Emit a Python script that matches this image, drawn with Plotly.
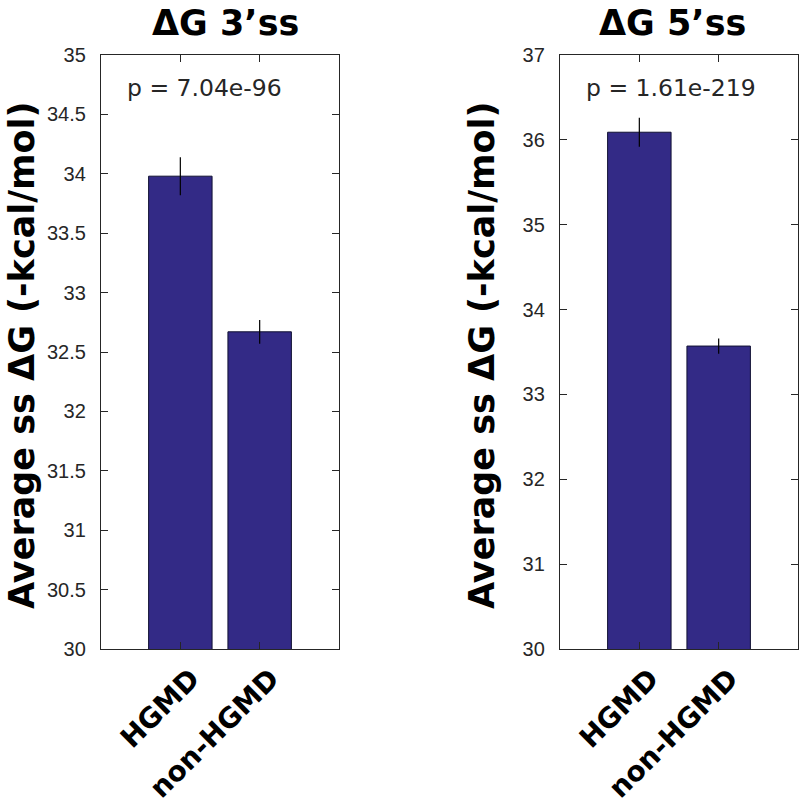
import plotly.graph_objects as go

# ---- data ----
categories = ["HGMD", "non-HGMD"]
dg3_values = [33.98, 32.67]
dg3_errors = [0.16, 0.10]
dg5_values = [36.09, 33.57]
dg5_errors = [0.17, 0.09]
titles = ["ΔG 3’ss", "ΔG 5’ss"]
p_texts = ["p = 7.04e-96", "p = 1.61e-219"]
y_label = "Average ss ΔG (-kcal/mol)"
y3_range = [30, 35]
y5_range = [30, 37]
y3_dtick = 0.5
y5_dtick = 1

W, H = 800, 808
BAR_COLOR = "#332a86"
AX_COLOR = "#262626"
TICK_FONT = dict(family="Liberation Sans, Arial, sans-serif", size=20, color=AX_COLOR)
BOLD_FONT = "DejaVu Sans, Liberation Sans, sans-serif"

def px_x(p):
    return p / W

def px_y(p):
    return 1 - p / H

fig = go.Figure()
fig.add_trace(go.Bar(
    x=categories, y=dg3_values, xaxis="x", yaxis="y",
    marker=dict(color=BAR_COLOR, line=dict(color="#111133", width=1)),
    error_y=dict(type="data", array=dg3_errors, color="black", thickness=1.2, width=0),
    showlegend=False))
fig.add_trace(go.Bar(
    x=categories, y=dg5_values, xaxis="x2", yaxis="y2",
    marker=dict(color=BAR_COLOR, line=dict(color="#111133", width=1)),
    error_y=dict(type="data", array=dg5_errors, color="black", thickness=1.2, width=0),
    showlegend=False))

ydom = [px_y(649), px_y(55)]
common_x = dict(type="category", range=[-1, 2], showline=True, mirror="ticks",
                linecolor=AX_COLOR, linewidth=1.3, ticks="inside", ticklen=7,
                tickcolor=AX_COLOR, tickwidth=1.2, tickangle=-45, automargin=False,
                ticklabelshift=11, ticklabelstandoff=1,
                tickfont=dict(family=BOLD_FONT, size=28, color="black", weight="bold"),
                showgrid=False, zeroline=False, fixedrange=True)
common_y = dict(showline=True, mirror="ticks", linecolor=AX_COLOR, linewidth=1.3,
                ticks="inside", ticklen=7, tickcolor=AX_COLOR, tickwidth=1.2,
                tickfont=TICK_FONT, showgrid=False, zeroline=False, automargin=False,
                ticklabelstandoff=10, domain=ydom, fixedrange=True)

fig.update_layout(
    width=W, height=H, margin=dict(l=0, r=0, t=0, b=0, autoexpand=False),
    paper_bgcolor="white", plot_bgcolor="white", bargap=0.2,
    xaxis=dict(domain=[px_x(101), px_x(339)], anchor="y", **common_x),
    xaxis2=dict(domain=[px_x(560), px_x(798)], anchor="y2", **common_x),
    yaxis=dict(anchor="x", range=y3_range, dtick=y3_dtick, tick0=30, **common_y),
    yaxis2=dict(anchor="x2", range=y5_range, dtick=y5_dtick, tick0=30, **common_y),
)

annotations = []
# titles
for t, cx in zip(titles, [226, 672]):
    annotations.append(dict(text=t, xref="paper", yref="paper", x=px_x(cx), y=px_y(23),
                            xanchor="center", yanchor="middle", showarrow=False,
                            font=dict(family=BOLD_FONT, size=35, color="black", weight="bold")))
# y labels
for cx, cy in zip([22, 482], [355, 355]):
    annotations.append(dict(text=y_label, xref="paper", yref="paper", x=px_x(cx), y=px_y(cy),
                            xanchor="center", yanchor="middle", textangle=-90, showarrow=False,
                            font=dict(family=BOLD_FONT, size=35, color="black", weight="bold")))
# p-values (positioned in category-axis data coordinates)
p_pos = [("x", "y", 0.3, 34.72), ("x2", "y2", 0.4, 36.61)]
for txt, (xr, yr, xv, yv) in zip(p_texts, p_pos):
    annotations.append(dict(text=txt, xref=xr, yref=yr, x=xv, y=yv, xanchor="center",
                            yanchor="middle", showarrow=False,
                            font=dict(family="DejaVu Sans, sans-serif", size=23.5, color=AX_COLOR)))
fig.update_layout(annotations=annotations)

fig.write_html("out.html", config={"displayModeBar": False},
               post_script="document.body.style.margin='0';document.body.style.overflow='hidden';")
